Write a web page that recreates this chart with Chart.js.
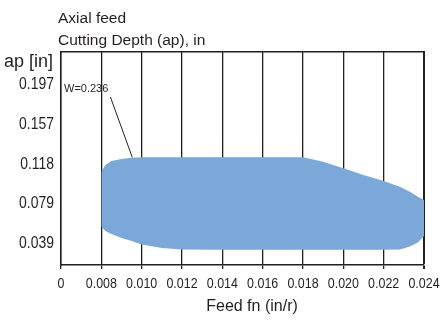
<!DOCTYPE html>
<html>
<head>
<meta charset="utf-8">
<script src="https://cdn.jsdelivr.net/npm/chart.js@4"></script>
<style>
  html, body { margin: 0; padding: 0; background: #fff; }
  #wrap { width: 441px; height: 322px; }
</style>
</head>
<body>
<div id="wrap"><canvas id="chart" width="441" height="322"></canvas></div>
<script>
// feed positions (in/r) shared by the upper and lower edge of the region
const feed  = [0.008, 0.0082, 0.0085, 0.009, 0.0095, 0.010, 0.011, 0.012, 0.014, 0.016, 0.018, 0.019, 0.020, 0.021, 0.022, 0.0228, 0.0233, 0.0237, 0.024];
const upper = [0.1087, 0.1156, 0.1196, 0.1216, 0.1229, 0.1233, 0.1233, 0.1233, 0.1233, 0.1233, 0.1233, 0.1189, 0.1124, 0.1057, 0.0998, 0.0941, 0.0892, 0.0842, 0.0810];
const lower = [0.0545, 0.0503, 0.0473, 0.0433, 0.0404, 0.0369, 0.0334, 0.0319, 0.0317, 0.0317, 0.0317, 0.0317, 0.0317, 0.0317, 0.0317, 0.0319, 0.0349, 0.0389, 0.0453];

// leader line of the W note
const leaderX = [0.00845, 0.00954];
const leaderY = [0.1830, 0.1230];

// axis ticks (the first x tick stands for the broken-axis "0")
const xTickValues = [0.006, 0.008, 0.010, 0.012, 0.014, 0.016, 0.018, 0.020, 0.022, 0.024];
const xTickLabels = ['0', '0.008', '0.010', '0.012', '0.014', '0.016', '0.018', '0.020', '0.022', '0.024'];
const yTickValues = [0.03937, 0.07874, 0.11811, 0.15748, 0.19685];
const yTickLabels = ['0.039', '0.079', '0.118', '0.157', '0.197'];

const FONT = "'Liberation Sans', Arial, sans-serif";
const INK = '#231f20';

const pts = (xs, ys) => xs.map((x, i) => ({x: x, y: ys[i]}));

// text with optional horizontal squeeze (the original uses a condensed face)
function txt(ctx, s, x, y, align, size, sx){
    ctx.save();
    ctx.translate(x, y);
    ctx.scale(sx, 1);
    ctx.font = size + 'px ' + FONT;
    ctx.textAlign = align;
    ctx.textBaseline = 'alphabetic';
    ctx.fillText(s, 0, 0);
    ctx.restore();
}

// tick labels, titles and the W note
const textPlugin = {
    id: 'texts',
    afterDraw(chart){
        const ctx = chart.ctx;
        const x = chart.scales.x, y = chart.scales.y;
        ctx.save();
        ctx.fillStyle = INK;
        xTickValues.forEach((v, i) => txt(ctx, xTickLabels[i], x.getPixelForValue(v), x.top + 23, 'center', 15, 0.83));
        yTickValues.forEach((v, i) => txt(ctx, yTickLabels[i], y.left + y.width - 7, y.getPixelForValue(v) + 6, 'right', 17, 0.82));
        txt(ctx, 'Axial feed', 58, 23, 'left', 15.5, 1);
        txt(ctx, 'Cutting Depth (ap), in', 58, 45, 'left', 15.5, 1);
        txt(ctx, 'ap [in]', 53, 67, 'right', 18, 1);
        txt(ctx, 'Feed fn (in/r)', 252, 311, 'center', 16, 1);
        txt(ctx, 'W=0.236', x.left + 3, y.getPixelForValue(leaderY[0]) - 5, 'left', 11, 1);
        ctx.restore();
    }
};

new Chart(document.getElementById('chart').getContext('2d'), {
    type: 'line',
    data: {
        datasets: [{
            label: 'lower',
            data: pts(feed, lower),
            borderWidth: 0,
            pointRadius: 0,
            fill: false
        }, {
            label: 'upper',
            data: pts(feed, upper),
            borderWidth: 0,
            pointRadius: 0,
            backgroundColor: '#7ba8d8',
            fill: '-1'
        }, {
            label: 'W',
            data: pts(leaderX, leaderY),
            borderColor: INK,
            borderWidth: 1,
            pointRadius: 0,
            fill: false
        }]
    },
    options: {
        responsive: false,
        animation: false,
        layout: {padding: {top: 52, right: 17, left: 0, bottom: 0}},
        plugins: {legend: {display: false}, tooltip: {enabled: false}},
        scales: {
            x: {
                type: 'linear',
                min: 0.006, max: 0.024,
                afterBuildTicks: s => { s.ticks = xTickValues.map(v => ({value: v})); },
                afterFit: s => { s.height = 57; },
                ticks: {display: false},
                grid: {
                    color: INK,
                    lineWidth: c => c.index === xTickValues.length - 1 ? 2 : 1.3,
                    tickLength: 4
                },
                border: {color: INK, width: 1.5}
            },
            x2: {
                type: 'linear',
                position: 'top',
                min: 0.006, max: 0.024,
                ticks: {display: false},
                grid: {display: false, drawTicks: false},
                border: {color: INK, width: 1.5}
            },
            y: {
                min: 0.01659, max: 0.22756,
                afterBuildTicks: s => { s.ticks = yTickValues.map(v => ({value: v})); },
                afterFit: s => { s.width = 61; },
                ticks: {display: false},
                grid: {display: false, drawTicks: false},
                border: {color: INK, width: 1.5}
            }
        }
    },
    plugins: [textPlugin]
});
</script>
</body>
</html>
